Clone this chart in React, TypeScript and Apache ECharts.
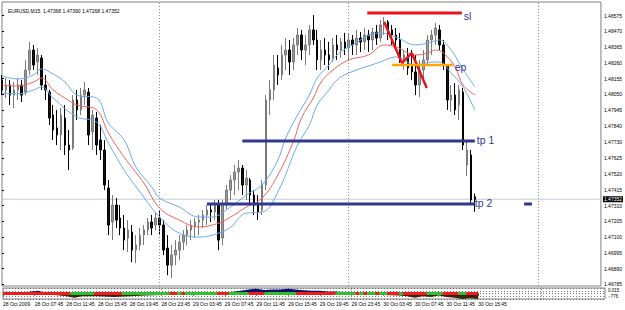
import React, { useEffect, useRef } from 'react';
import * as echarts from 'echarts';

const symbolName = 'EURUSD,M15';

const dateLabels = [
  '28 Oct 2009', '28 Oct 07:45', '28 Oct 11:45', '28 Oct 15:45', '28 Oct 19:45', '28 Oct 23:45',
  '29 Oct 03:45', '29 Oct 07:45', '29 Oct 11:45', '29 Oct 15:45', '29 Oct 19:45', '29 Oct 23:45',
  '30 Oct 03:45', '30 Oct 07:45', '30 Oct 11:45', '30 Oct 15:45',
];

const priceTicks = [
  1.48575, 1.4847, 1.48365, 1.4826, 1.48155, 1.4805, 1.47945, 1.4784, 1.4773,
  1.47625, 1.4752, 1.47415, 1.4731, 1.47205, 1.471, 1.46995, 1.4689, 1.46785,
];

// [open, close, low, high]
const candles = [
  [1.48146, 1.4808, 1.48046, 1.4818], [1.4808, 1.48113, 1.48026, 1.4816], [1.48113, 1.48046, 1.4798, 1.48146],
  [1.48046, 1.4808, 1.4796, 1.48133], [1.4808, 1.48113, 1.48013, 1.4816], [1.48113, 1.48046, 1.48, 1.48146],
  [1.48066, 1.48213, 1.48046, 1.4828], [1.48213, 1.48346, 1.4818, 1.484], [1.48346, 1.48246, 1.48213, 1.4838],
  [1.48266, 1.48313, 1.4818, 1.4836], [1.48293, 1.48113, 1.4808, 1.48313], [1.48113, 1.4808, 1.48013, 1.4818],
  [1.48066, 1.47893, 1.47847, 1.4808], [1.47913, 1.47813, 1.47747, 1.4798], [1.47827, 1.4778, 1.47713, 1.47947],
  [1.4778, 1.47913, 1.4768, 1.4796], [1.47893, 1.47713, 1.47647, 1.4798], [1.47713, 1.4768, 1.47547, 1.47813],
  [1.47693, 1.48013, 1.4768, 1.48046], [1.48013, 1.47947, 1.4788, 1.4808], [1.47947, 1.48046, 1.47913, 1.48093],
  [1.48046, 1.4808, 1.4798, 1.48133], [1.48066, 1.4778, 1.47713, 1.48093], [1.478, 1.47913, 1.4768, 1.47947],
  [1.47893, 1.47713, 1.47647, 1.47933], [1.47747, 1.4768, 1.47613, 1.47847], [1.4768, 1.47447, 1.47413, 1.47747],
  [1.47427, 1.4718, 1.47113, 1.4748], [1.472, 1.47313, 1.4708, 1.4738], [1.47313, 1.47213, 1.4716, 1.4736],
  [1.47227, 1.4716, 1.47113, 1.47313], [1.4716, 1.4708, 1.47013, 1.47247], [1.47093, 1.47147, 1.47, 1.47213],
  [1.47133, 1.47013, 1.46933, 1.4718], [1.47013, 1.47047, 1.46926, 1.47113], [1.47047, 1.47113, 1.47013, 1.4716],
  [1.47113, 1.47147, 1.47047, 1.4718], [1.47147, 1.472, 1.47113, 1.47227], [1.472, 1.4716, 1.47113, 1.47247],
  [1.4718, 1.47227, 1.47147, 1.47267], [1.47227, 1.4718, 1.47113, 1.4728], [1.4718, 1.47013, 1.4698, 1.47213],
  [1.47027, 1.46913, 1.46846, 1.47113], [1.46913, 1.4698, 1.46826, 1.47047], [1.4698, 1.47013, 1.46913, 1.4708],
  [1.47013, 1.47066, 1.46947, 1.47113], [1.47066, 1.47113, 1.47013, 1.47147], [1.47113, 1.47147, 1.47047, 1.4718],
  [1.47147, 1.4718, 1.4708, 1.47213], [1.47173, 1.472, 1.47093, 1.47227], [1.472, 1.47213, 1.47113, 1.47247],
  [1.47213, 1.47247, 1.4716, 1.4728], [1.47247, 1.4728, 1.4718, 1.47313], [1.4728, 1.47267, 1.472, 1.47313],
  [1.47267, 1.47313, 1.47213, 1.47347], [1.47313, 1.4708, 1.47013, 1.47347], [1.47093, 1.47313, 1.47047, 1.47347],
  [1.47313, 1.47413, 1.4728, 1.47447], [1.47413, 1.4748, 1.47347, 1.47513], [1.4748, 1.47533, 1.4738, 1.4758],
  [1.47533, 1.4756, 1.47413, 1.47613], [1.4756, 1.47447, 1.4738, 1.4758], [1.47447, 1.47493, 1.47347, 1.47547],
  [1.4748, 1.4738, 1.47313, 1.47493], [1.4738, 1.47313, 1.47247, 1.47413], [1.47313, 1.47267, 1.47213, 1.4738],
  [1.4728, 1.47447, 1.47247, 1.4748], [1.47447, 1.48013, 1.47413, 1.48046], [1.48013, 1.4808, 1.47913, 1.48146],
  [1.4808, 1.48246, 1.48013, 1.48313], [1.48226, 1.4818, 1.48113, 1.48313], [1.4818, 1.48313, 1.48146, 1.4838],
  [1.48313, 1.48346, 1.48213, 1.48426], [1.48346, 1.48266, 1.4818, 1.48413], [1.48266, 1.4838, 1.48213, 1.48426],
  [1.4838, 1.48446, 1.48313, 1.48493], [1.48446, 1.48346, 1.4828, 1.4848], [1.48346, 1.4838, 1.48246, 1.48446],
  [1.4838, 1.4848, 1.48313, 1.48513], [1.4848, 1.48413, 1.4838, 1.48579], [1.48413, 1.4828, 1.48213, 1.4848],
  [1.4828, 1.48346, 1.48213, 1.48413], [1.48346, 1.48313, 1.48246, 1.48426], [1.48313, 1.4828, 1.48213, 1.484],
  [1.48293, 1.4838, 1.48266, 1.48426], [1.4838, 1.48346, 1.4828, 1.48446], [1.48346, 1.484, 1.48293, 1.48426],
  [1.484, 1.4836, 1.48313, 1.4846], [1.4836, 1.48413, 1.4828, 1.4846], [1.48413, 1.4838, 1.48313, 1.48446],
  [1.4838, 1.48426, 1.48313, 1.4848], [1.48426, 1.484, 1.48333, 1.48466], [1.484, 1.48446, 1.48346, 1.48493],
  [1.48446, 1.48413, 1.48333, 1.4848], [1.48413, 1.48466, 1.48346, 1.48493], [1.48466, 1.48426, 1.4838, 1.48513],
  [1.48426, 1.48513, 1.484, 1.48546], [1.48513, 1.48533, 1.48446, 1.48566], [1.48533, 1.4848, 1.48413, 1.48546],
  [1.4848, 1.48446, 1.4838, 1.48513], [1.48446, 1.48413, 1.48346, 1.48493], [1.48413, 1.48293, 1.4826, 1.4846],
  [1.48293, 1.48313, 1.48213, 1.48346], [1.48313, 1.48226, 1.4818, 1.4836], [1.48246, 1.482, 1.48146, 1.48346],
  [1.482, 1.48113, 1.48046, 1.48313], [1.48113, 1.48213, 1.48033, 1.4828], [1.48213, 1.4828, 1.48146, 1.48346],
  [1.4828, 1.48413, 1.48246, 1.48446], [1.48413, 1.48446, 1.48313, 1.4848], [1.48446, 1.48493, 1.4838, 1.48526],
  [1.4848, 1.4838, 1.48346, 1.48513], [1.4838, 1.48246, 1.48213, 1.48413], [1.48246, 1.48013, 1.47947, 1.48246],
  [1.48013, 1.48046, 1.47933, 1.48113], [1.48046, 1.47947, 1.47913, 1.48126], [1.4798, 1.4808, 1.4788, 1.48113],
  [1.48066, 1.47713, 1.4768, 1.48093], [1.4758, 1.4768, 1.47506, 1.47747], [1.47647, 1.47347, 1.47313, 1.4768],
  [1.47368, 1.47352, 1.47268, 1.4739],
];

// moving average (red) and envelope bands (blue), [bar index, price]
const maMid = [
  [0, 1.48113], [4, 1.48106], [8, 1.48133], [10, 1.4816], [13, 1.4808], [16, 1.48026], [19, 1.4798],
  [24, 1.47947], [27, 1.47793], [31, 1.47633], [36, 1.4746], [40, 1.47293], [45, 1.47213], [50, 1.47167],
  [55, 1.47193], [58, 1.47233], [62, 1.473], [66, 1.4736], [70, 1.47513], [74, 1.4774], [76, 1.47893],
  [79, 1.48026], [81, 1.48133], [84, 1.48213], [88, 1.4828], [93, 1.48313], [97, 1.4838], [100, 1.48366],
  [105, 1.48313], [108, 1.48326], [110, 1.48346], [112, 1.48326], [115, 1.48233], [117, 1.48113], [120, 1.48046],
];
const maUpper = [
  [0, 1.48173], [4, 1.48153], [8, 1.4818], [10, 1.4822], [13, 1.48186], [16, 1.48133], [19, 1.48046],
  [24, 1.48026], [27, 1.4786], [31, 1.47747], [34, 1.47566], [38, 1.47433], [40, 1.4736], [45, 1.473],
  [50, 1.47233], [53, 1.47233], [58, 1.473], [62, 1.4738], [66, 1.47447], [70, 1.47613], [72, 1.4776],
  [75, 1.47913], [78, 1.48046], [80, 1.4816], [83, 1.48246], [85, 1.48313], [88, 1.48366], [96, 1.4846],
  [100, 1.48433], [105, 1.4838], [109, 1.484], [111, 1.48413], [114, 1.48346], [116, 1.4826], [120, 1.481],
];
const maLower = [
  [0, 1.4806], [4, 1.48053], [8, 1.4808], [10, 1.481], [13, 1.48026], [19, 1.479], [24, 1.47866],
  [27, 1.47727], [31, 1.47546], [36, 1.47366], [40, 1.47233], [45, 1.47126], [50, 1.471], [55, 1.47126],
  [58, 1.47166], [62, 1.4726], [66, 1.47266], [70, 1.474], [75, 1.47713], [78, 1.47846], [80, 1.4798],
  [83, 1.4808], [85, 1.48146], [88, 1.48193], [96, 1.48266], [100, 1.483], [105, 1.48246], [109, 1.48266],
  [111, 1.48266], [114, 1.48193], [117, 1.481], [120, 1.47946],
];

// hand-drawn trade lines
const slLine = [[92.7, 1.48593], [116.7, 1.48593]];
const zigzagLine = [[97, 1.48533], [101.5, 1.4826], [104, 1.48326], [107.8, 1.48093]];
const epLine = [[99, 1.48246], [114.4, 1.48246]];
const tp1Line = [[61, 1.4774], [120, 1.4774]];
const tp2Line = [[52, 1.47321], [120, 1.47321]];
const tp2Stub = [[132.5, 1.47321], [134.5, 1.47321]];

const daySeparators = [40, 88, 136];

// sub-window oscillator
const oscPositive = [
  [5, 0], [7, 1.5], [9, 2], [11, 0], [55, 0], [57, 1], [60, 2], [62, 3], [64, 3.5], [66, 2.5], [68, 3],
  [70, 3], [72, 3.5], [75, 2.5], [78, 2], [80, 2], [82, 1.5], [84, 1.5], [86, 1], [88, 0],
];
const oscNegative = [
  [11, 0], [13, -1], [16, -2], [18, -3], [20, -2], [24, -2], [28, -2.5], [32, -2], [36, -1.5], [40, -1],
  [44, -0.5], [48, 0], [88, 0], [92, -0.5], [96, -1], [100, -1.5], [102, -2], [104, -3], [106, -2],
  [108, -2.5], [110, -1.5], [112, -2.5], [114, -3], [116, -4], [118, -3.5], [120, -4],
];
// [from bar, to bar, direction: 1 up (green), -1 down (red)]
const trendSegments = [
  [0, 17, -1], [17, 23, 1], [23, 30, -1], [30, 42, 1], [42, 44, -1], [44, 45, 1], [45, 46, -1], [46, 54, 1],
  [54, 57, -1], [57, 62, 1], [62, 66, -1], [66, 74, 1], [74, 84, -1], [84, 89, 1], [89, 90, -1], [90, 91, 1],
  [91, 92, -1], [92, 94, 1], [94, 95, -1], [95, 97, 1], [97, 100, -1], [100, 101, 1], [101, 107, -1],
  [107, 111, 1], [111, 115, -1], [115, 117, 1], [117, 120, -1],
];
const subTicks = [2, -2];
const subTickLabels = ['0.015', '-.776'];

const TOTAL_SLOTS = 153;
const categories = Array.from({ length: TOTAL_SLOTS }, (_, i) => String(i));

const FONT = 'Liberation Sans';
const NAVY = '#363694';

export default function App() {
  const ref = useRef<HTMLDivElement>(null);
  useEffect(() => {
    if (!ref.current) return;
    const chart = echarts.init(ref.current, null, { renderer: 'svg' });
    const last = candles[candles.length - 1];
    const lastClose = last[1];
    const labelShown = (idx: number) => idx % 8 === 0 && idx / 8 < dateLabels.length;

    const drawLine = (data: number[][], color: string, width: number, label?: string, labelOffset?: number[]) => ({
      type: 'line',
      xAxisIndex: 1,
      yAxisIndex: 0,
      data,
      symbol: 'none',
      silent: true,
      z: 5,
      lineStyle: { color, width, cap: 'butt' },
      endLabel: label
        ? { show: true, formatter: label, color: NAVY, fontSize: 10.5, fontFamily: FONT, distance: 2, offset: labelOffset || [0, 0] }
        : { show: false },
    });

    const option: any = {
      animation: false,
      backgroundColor: '#ffffff',
      title: {
        text: `${symbolName}  ${last[0].toFixed(5)} ${last[3].toFixed(5)} ${last[2].toFixed(5)} ${last[1].toFixed(5)}`,
        left: 3,
        top: 3,
        textStyle: { fontSize: 5, fontWeight: 'normal', color: '#000', fontFamily: FONT },
      },
      grid: [
        { left: 2, top: 2, width: 603, height: 284, show: true, borderColor: '#808080', borderWidth: 1, backgroundColor: '#fff' },
        { left: 2, top: 288, width: 603, height: 11, show: true, borderColor: '#808080', borderWidth: 1, backgroundColor: '#fff' },
      ],
      xAxis: [
        { type: 'category', gridIndex: 0, data: categories, boundaryGap: false, axisLine: { show: false }, axisTick: { show: false }, axisLabel: { show: false } },
        { type: 'value', gridIndex: 0, min: 0, max: TOTAL_SLOTS - 1, show: false },
        {
          type: 'category', gridIndex: 1, data: categories, boundaryGap: false, position: 'bottom',
          axisLine: { show: false },
          axisTick: { show: true, interval: (i: number) => labelShown(i), length: 2, lineStyle: { color: '#000' } },
          axisLabel: {
            show: true, interval: (i: number) => labelShown(i),
            formatter: (_v: string, i: number) => dateLabels[i / 8] || '',
            fontSize: 5, color: '#000', fontFamily: FONT, align: 'left', margin: 2, hideOverlap: false,
          },
        },
        { type: 'value', gridIndex: 1, min: 0, max: TOTAL_SLOTS - 1, show: false },
      ],
      yAxis: [
        {
          type: 'value', gridIndex: 0, position: 'right', min: 1.46774, max: 1.48666, scale: true,
          axisLine: { show: false },
          splitLine: { show: false },
          axisTick: { show: true, customValues: priceTicks, length: 2, lineStyle: { color: '#000' } },
          axisLabel: {
            show: true, customValues: priceTicks, formatter: (v: number) => v.toFixed(5),
            fontSize: 5, color: '#000', fontFamily: FONT, margin: 3,
          },
        },
        {
          type: 'value', gridIndex: 1, position: 'right', min: -4, max: 4, interval: 2,
          axisLine: { show: false },
          splitLine: { show: true, lineStyle: { color: '#777', type: [1, 2], width: 1 } },
          axisTick: { show: false },
          axisLabel: {
            show: true, customValues: subTicks,
            formatter: (v: number) => subTickLabels[subTicks.indexOf(v)] || '',
            fontSize: 4.5, color: '#000', fontFamily: FONT, margin: 3,
          },
        },
      ],
      series: [
        {
          type: 'line', xAxisIndex: 1, yAxisIndex: 0,
          data: [[0, lastClose], [TOTAL_SLOTS - 1, lastClose]],
          symbol: 'none', silent: true, z: 1,
          lineStyle: { color: '#c5cbd8', width: 1 },
          endLabel: {
            show: true, formatter: lastClose.toFixed(5), backgroundColor: '#000', color: '#fff',
            fontSize: 5, fontFamily: FONT, padding: [1, 1, 0, 1], distance: 2,
          },
        },
        {
          type: 'candlestick',
          xAxisIndex: 0,
          yAxisIndex: 0,
          data: candles,
          barWidth: 2,
          z: 3,
          itemStyle: { color: '#9a9a9a', color0: '#111111', borderColor: '#7a7a7a', borderColor0: '#000000', borderWidth: 1 },
        },
        {
          type: 'line', xAxisIndex: 1, yAxisIndex: 0, data: maUpper, smooth: 0.4, symbol: 'none', silent: true, z: 4,
          lineStyle: { color: '#6aaaf2', width: 1 },
          markLine: {
            symbol: 'none', silent: true, data: daySeparators.map((d) => ({ xAxis: d })),
            lineStyle: { color: '#8a8a8a', type: [1, 2], width: 1 }, label: { show: false },
          },
        },
        { type: 'line', xAxisIndex: 1, yAxisIndex: 0, data: maMid, smooth: 0.4, symbol: 'none', silent: true, z: 4, lineStyle: { color: '#f46060', width: 1 } },
        { type: 'line', xAxisIndex: 1, yAxisIndex: 0, data: maLower, smooth: 0.4, symbol: 'none', silent: true, z: 4, lineStyle: { color: '#6aaaf2', width: 1 } },
        drawLine(tp1Line, '#2f3a8e', 3, 'tp 1', [0, -1]),
        drawLine(tp2Line, '#2f3a8e', 3, 'tp 2', [-2, -1]),
        drawLine(tp2Stub, '#2f3a8e', 3),
        drawLine(slLine, '#e8141c', 3, 'sl', [0, 3]),
        drawLine(zigzagLine, '#e8141c', 2.5),
        drawLine(epLine, '#ffa500', 2.5, 'ep', [0, 2]),
        {
          type: 'line', xAxisIndex: 3, yAxisIndex: 1, data: oscPositive, symbol: 'none', silent: true, z: 2,
          lineStyle: { width: 0 }, areaStyle: { color: '#0a0a70', opacity: 1, origin: 0 },
          markLine: {
            symbol: 'none', silent: true, data: daySeparators.map((d) => ({ xAxis: d })),
            lineStyle: { color: '#8a8a8a', type: [1, 2], width: 1 }, label: { show: false },
          },
        },
        {
          type: 'line', xAxisIndex: 3, yAxisIndex: 1, data: oscNegative, symbol: 'none', silent: true, z: 2,
          lineStyle: { width: 0 }, areaStyle: { color: '#3a2410', opacity: 1, origin: 0 },
        },
        ...trendSegments.map((s) => ({
          type: 'line', xAxisIndex: 3, yAxisIndex: 1, data: [[s[0], 0], [s[1], 0]], symbol: 'none', silent: true, z: 4,
          lineStyle: { color: s[2] > 0 ? '#2fc02f' : '#ee1c1c', width: 3, cap: 'butt' },
        })),
      ],
    };
    chart.setOption(option);
    return () => chart.dispose();
  }, []);
  return <div ref={ref} style={{ position: 'fixed', left: 0, top: 0, width: 625, height: 310 }} />;
}
